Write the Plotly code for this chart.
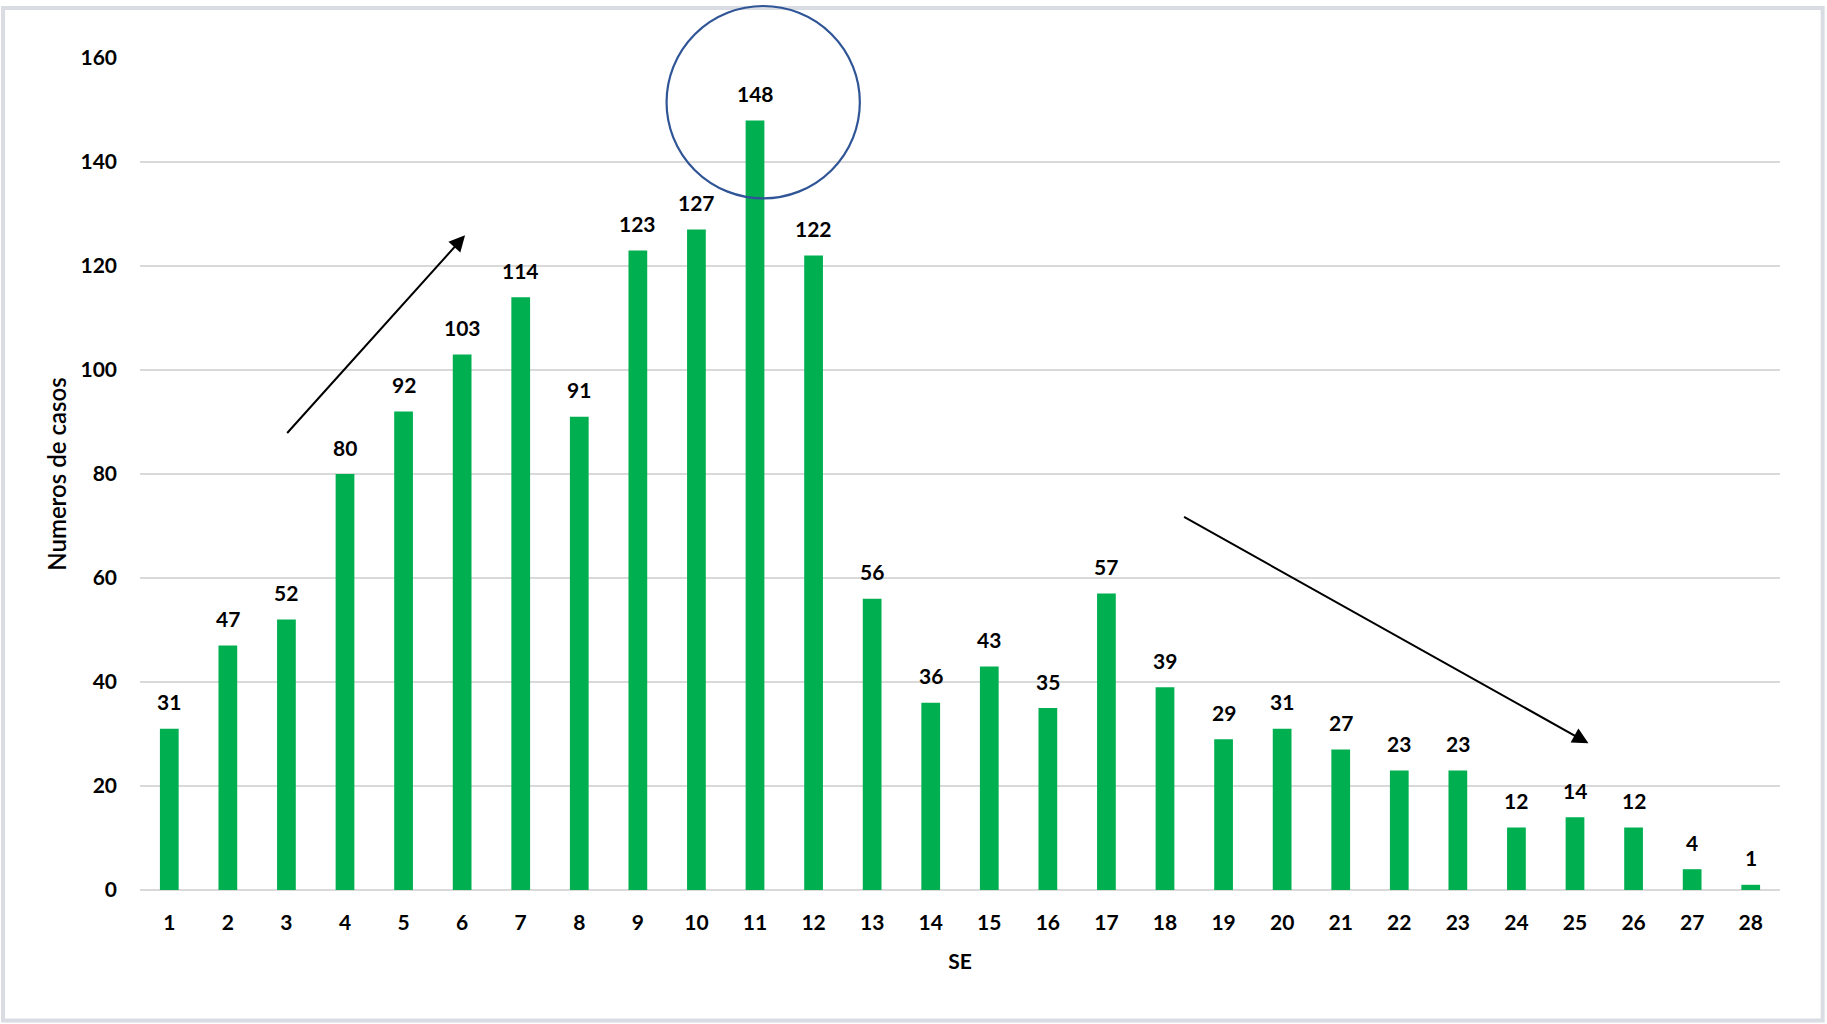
import plotly.graph_objects as go

se = list(range(1, 29))
casos = [31, 47, 52, 80, 92, 103, 114, 91, 123, 127, 148, 122, 56, 36, 43, 35,
         57, 39, 29, 31, 27, 23, 23, 12, 14, 12, 4, 1]
y_ticks = [0, 20, 40, 60, 80, 100, 120, 140, 160]

FONT = "Lato"
GREEN = "#00B050"
Y_MAX = 160

fig = go.Figure()
fig.add_trace(go.Bar(x=se, y=casos, marker=dict(color=GREEN, line=dict(width=0)),
                     width=0.32, hoverinfo="x+y"))

annotations = []
for xv, yv in zip(se, casos):
    annotations.append(dict(x=xv, y=yv, xref="x", yref="y", text=f"<b>{yv}</b>",
                            showarrow=False, yanchor="middle", yshift=27,
                            font=dict(family=FONT, size=21, color="#000000")))
# trend arrows
annotations.append(dict(x=6.05, y=125.9, ax=2.99, ay=87.6, xref="x", yref="y",
                        axref="x", ayref="y", text="", showarrow=True,
                        arrowhead=2, arrowsize=1.6, arrowwidth=2, arrowcolor="#000000"))
annotations.append(dict(x=25.23, y=28.2, ax=18.3, ay=71.9, xref="x", yref="y",
                        axref="x", ayref="y", text="", showarrow=True,
                        arrowhead=2, arrowsize=1.6, arrowwidth=2, arrowcolor="#000000"))

# highlight circle around the peak week (y given in paper units so it is not clipped)
circle_y0, circle_y1 = 133.0, 170.0
shapes = [
    dict(type="circle", xref="x", yref="paper", x0=9.49, x1=12.79,
         y0=circle_y0 / Y_MAX, y1=circle_y1 / Y_MAX,
         line=dict(color="#2F5597", width=2.2), fillcolor="rgba(0,0,0,0)", layer="above"),
    dict(type="rect", xref="paper", yref="paper", x0=-0.0835, x1=1.026, y0=-0.157, y1=1.060,
         line=dict(color="#D9DCE2", width=4), fillcolor="rgba(0,0,0,0)", layer="below"),
]

fig.update_layout(
    width=1827, height=1024,
    margin=dict(l=140, r=47, t=58, b=134),
    paper_bgcolor="#FFFFFF", plot_bgcolor="#FFFFFF",
    showlegend=False,
    annotations=annotations,
    shapes=shapes,
    bargap=0.68,
    font=dict(family=FONT, color="#000000"),
    xaxis=dict(range=[0.5, 28.5], tickmode="array", tickvals=se,
               ticktext=[f"<b>{v}</b>" for v in se], showgrid=False, zeroline=False,
               showline=False, ticks="", ticklabelstandoff=18,
               tickfont=dict(family=FONT, size=21, color="#000000"),
               title=dict(text="<b>SE</b>", font=dict(family=FONT, size=21, color="#000000"),
                          standoff=21)),
    yaxis=dict(range=[0, Y_MAX], tickmode="array", tickvals=y_ticks,
               ticktext=[f"<b>{v}</b>" for v in y_ticks], showgrid=True,
               gridcolor="#D9D9D9", gridwidth=2, zeroline=True, zerolinecolor="#D9D9D9",
               zerolinewidth=2, showline=False, ticks="", ticklabelstandoff=22,
               tickfont=dict(family=FONT, size=21, color="#000000"),
               title=dict(text="Numeros de casos",
                          font=dict(family=FONT, size=24, color="#000000", weight=600),
                          standoff=7)),
)

fig.write_html("out.html", config={"displayModeBar": False},
               post_script="document.body.style.margin='0';")
